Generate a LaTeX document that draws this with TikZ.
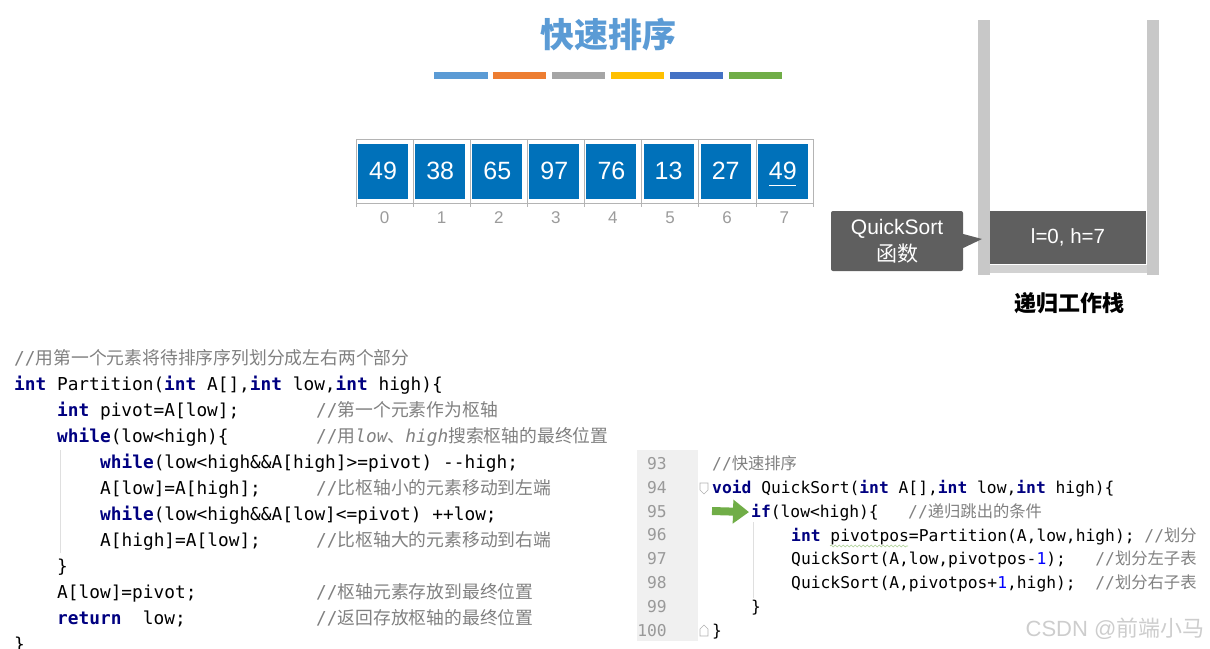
\documentclass[tikz,border=0pt]{standalone}
\usepackage{fontspec}
\setmainfont{Liberation Sans}
\setmonofont{DejaVu Sans Mono}
\newfontfamily\cjk{Noto Sans CJK SC}
\usetikzlibrary{arrows.meta,decorations.pathmorphing}

\definecolor{titleblue}{HTML}{5B9BD5}
\definecolor{barA}{HTML}{5B9BD5}
\definecolor{barB}{HTML}{ED7D31}
\definecolor{barC}{HTML}{A5A5A5}
\definecolor{barD}{HTML}{FFC000}
\definecolor{barE}{HTML}{4472C4}
\definecolor{barF}{HTML}{70AD47}
\definecolor{cellblue}{HTML}{0071BA}
\definecolor{cellline}{HTML}{B4B4B4}
\definecolor{idxgray}{HTML}{9B9B9B}
\definecolor{wallgray}{HTML}{C8C8C8}
\definecolor{floorgray}{HTML}{D2D2D2}
\definecolor{boxgray}{HTML}{5F5F5F}
\definecolor{kwblue}{HTML}{000080}
\definecolor{cmgray}{HTML}{808080}
\definecolor{numblue}{HTML}{0000FF}
\definecolor{gutter}{HTML}{F0F0F0}
\definecolor{lngray}{HTML}{999999}
\definecolor{arrowgreen}{HTML}{70AD47}
\definecolor{wmgray}{HTML}{CDCDCD}

\newcommand{\kw}[1]{{\color{kwblue}\bfseries #1}}
\newcommand{\cm}[1]{{\color{cmgray}#1}}
\newcommand{\zh}[1]{{\cjk #1}}
\newcommand{\nb}[1]{{\color{numblue}#1}}

\tikzset{
  lcode/.style={anchor=base west,inner sep=0pt,font=\fontsize{17.8}{20}\selectfont\ttfamily\frenchspacing},
  rcode/.style={anchor=base west,inner sep=0pt,font=\fontsize{16.3}{18}\selectfont\ttfamily\frenchspacing},
  lnum/.style={anchor=base east,inner sep=0pt,text=lngray,font=\fontsize{16.3}{18}\selectfont\ttfamily},
  cell/.style={draw=cellline,minimum width=57.1pt,minimum height=64pt,inner sep=0pt},
  val/.style={fill=cellblue,text=white,minimum width=50pt,minimum height=55pt,inner sep=0pt,font=\fontsize{25}{27}\selectfont},
  idx/.style={text=idxgray,inner sep=0pt,font=\fontsize{17}{19}\selectfont},
  frame/.style={fill=boxgray,text=white,minimum width=156pt,minimum height=53pt,inner sep=0pt,font=\fontsize{20.5}{24}\selectfont},
  callout/.style={fill=boxgray,text=white,rounded corners=2pt,minimum width=132pt,minimum height=60pt,inner sep=0pt,align=center,font=\fontsize{21}{27}\selectfont},
  guide/.style={draw=gray!25,line width=0.8pt},
  fold/.style={draw=gray!60,fill=white,line width=0.6pt},
  garrow/.style={draw=arrowgreen,line width=8pt,-{Triangle[length=16pt,width=23pt]}},
}

\begin{document}
\begin{tikzpicture}[x=1pt,y=-1pt]
\useasboundingbox (0,0) rectangle (1210,648);

% title and colour bars
\node[text=titleblue,font=\fontsize{34}{36}\selectfont\cjk\bfseries] (ttl) at (608,35) {快速排序};
\foreach \c [count=\i from 0] in {barA,barB,barC,barD,barE,barF}
  \fill[\c] (434+58.9*\i,72) rectangle +(53.5,7);

% array
\foreach \v [count=\i from 0] in {49,38,65,97,76,13,27,49}{
  \node[cell] (c\i) at (384.55+57.1*\i,171) {};
  \node[val] (v\i) at ([xshift=-1.5pt]c\i.center) {\v};
  \node[idx] (i\i) at (384.55+57.1*\i,218) {\i};
}
\foreach \k in {0,...,8}
  \draw[cellline] (356+57.1*\k,203) -- (356+57.1*\k,207);
\draw[white,line width=1pt] ([xshift=-13.5pt,yshift=-14.5pt]v7.center) -- ([xshift=13.5pt,yshift=-14.5pt]v7.center);

% recursion stack
\fill[wallgray] (978,20) rectangle (990,275);
\fill[wallgray] (1147,20) rectangle (1159,275);
\fill[floorgray] (990,265) rectangle (1147,273);
\node[frame] (frm) at (1068,237.5) {l=0, h=7};
\node[font=\fontsize{22}{24}\selectfont\cjk\bfseries] (stk) at (1069,303) {递归工作栈};
\node[callout] (fn) at (897,241) {QuickSort\\\zh{函数}};
\coordinate (tip) at (982,239);
\fill[boxgray] ([yshift=7pt]fn.east) -- (tip) -- ([yshift=-7pt]fn.east) -- cycle;

% Partition
\draw[guide] (60,450) -- (60,553);
\node[lcode] (p1) at (14,364) {\cm{//\zh{用第一个元素将待排序序列划分成左右两个部分}}};
\node[lcode] (p2) at (14,390) {\kw{int} Partition(\kw{int} A[],\kw{int} low,\kw{int} high)\{};
\node[lcode] (p3) at (57,416) {\kw{int} pivot=A[low];};
\node[lcode] (k3) at (316,416) {\cm{//\zh{第一个元素作为枢轴}}};
\node[lcode] (p4) at (57,442) {\kw{while}(low<high)\{};
\node[lcode] (k4) at (316,442) {\cm{//\zh{用}{\itshape low}\zh{、}{\itshape high}\zh{搜索枢轴的最终位置}}};
\node[lcode] (p5) at (100,468) {\kw{while}(low<high\&\&A[high]>=pivot) -{}-high;};
\node[lcode] (p6) at (100,494) {A[low]=A[high];};
\node[lcode] (k6) at (316,494) {\cm{//\zh{比枢轴小的元素移动到左端}}};
\node[lcode] (p7) at (100,520) {\kw{while}(low<high\&\&A[low]<=pivot) ++low;};
\node[lcode] (p8) at (100,546) {A[high]=A[low];};
\node[lcode] (k8) at (316,546) {\cm{//\zh{比枢轴大的元素移动到右端}}};
\node[lcode] (p9) at (57,572) {\}};
\node[lcode] (p10) at (57,598) {A[low]=pivot;};
\node[lcode] (k10) at (316,598) {\cm{//\zh{枢轴元素存放到最终位置}}};
\node[lcode] (p11) at (57,624) {\kw{return}~~low;};
\node[lcode] (k11) at (316,624) {\cm{//\zh{返回存放枢轴的最终位置}}};
\node[lcode] (p12) at (14,650) {\}};

% QuickSort
\fill[gutter] (637,450) rectangle (698,641);
\foreach \n [count=\k from 0] in {93,...,100}
  \node[lnum] (n\n) at (667,469.5+23.83*\k) {\n};
\draw[fold] (700,483) -- (708,483) -- (708,490) -- (704,494) -- (700,490) -- cycle;
\draw[fold] (700,636) -- (708,636) -- (708,629) -- (704,625) -- (700,629) -- cycle;
\draw[guide] (753,522) -- (753,598);
\node[rcode] (q93) at (712,469.5) {\cm{//\zh{快速排序}}};
\node[rcode] (q94) at (712,493.3) {\kw{void} QuickSort(\kw{int} A[],\kw{int} low,\kw{int} high)\{};
\node[rcode] (q95) at (751,517.2) {\kw{if}(low<high)\{~~~\cm{//\zh{递归跳出的条件}}};
\node[rcode] (q96) at (791,541) {\kw{int} pivotpos=Partition(A,low,high);~\cm{//\zh{划分}}};
\node[rcode] (q97) at (791,564.8) {QuickSort(A,low,pivotpos-\nb{1});~~~\cm{//\zh{划分左子表}}};
\node[rcode] (q98) at (791,588.7) {QuickSort(A,pivotpos+\nb{1},high);~~\cm{//\zh{划分右子表}}};
\node[rcode] (q99) at (751,612.5) {\}};
\node[rcode] (q100) at (712,636.3) {\}};
\draw[arrowgreen!60,line width=0.6pt,decorate,decoration={snake,amplitude=1pt,segment length=4pt}] (830,546) -- (908,546);
\coordinate (atail) at (712,511);
\draw[garrow] (atail) -- ([xshift=-2pt]q95.west);

\node[text=wmgray,font=\fontsize{22}{24}\selectfont] (wm) at (1115,629) {CSDN @\zh{前端小马}};
\end{tikzpicture}
\end{document}
